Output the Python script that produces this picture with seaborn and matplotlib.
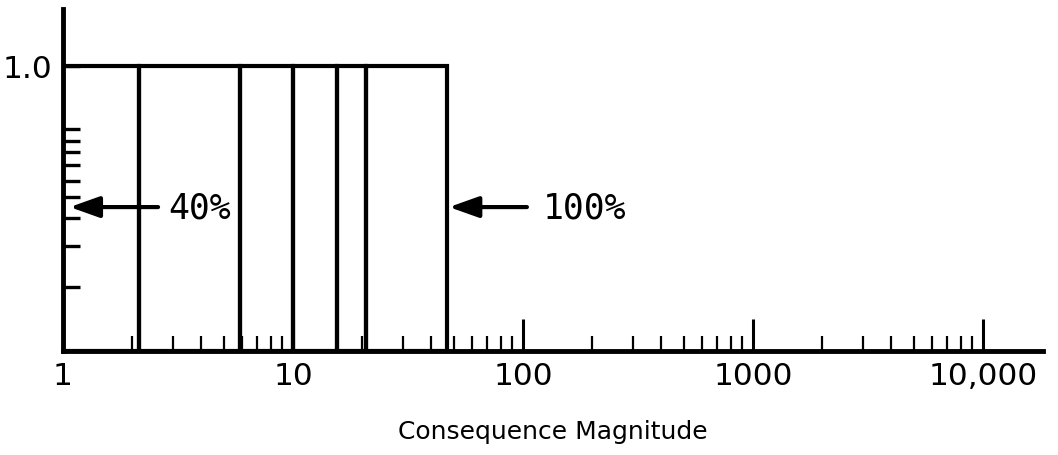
import numpy as np
import matplotlib
matplotlib.use("Agg")
import matplotlib.pyplot as plt
from matplotlib.ticker import LogLocator, NullFormatter
import seaborn as sns

# Consequence-magnitude bins (edges on a log axis) and their heights
bin_edges = [1.0, 2.15, 5.9, 10.0, 15.5, 20.7, 46.5]
bin_heights = [1.0, 1.0, 1.0, 1.0, 1.0, 1.0]

# Axis ticks
x_major = [1, 10, 100, 1000, 10000]
x_major_labels = ["1", "10", "100", "1000", "10,000"]
y_ticks = [0.225, 0.368, 0.467, 0.540, 0.596, 0.653, 0.698, 0.737, 0.779, 1.0]
y_tick_labels = ["", "", "", "", "", "", "", "", "", "1.0"]

# Percentage call-outs
callout_labels = ["40%", "100%"]

sns.set_theme(style="ticks")
plt.rcParams["font.family"] = ["DejaVu Sans"]

fig = plt.figure(figsize=(10.58, 4.56), dpi=100)
ax = fig.add_axes([63 / 1058, 104 / 456, 980 / 1058, 342 / 456])

centers = np.sqrt(np.array(bin_edges[:-1]) * np.array(bin_edges[1:]))
log_edges = [float(v) for v in np.log10(bin_edges)]
sns.histplot(x=centers, weights=bin_heights, bins=log_edges,
             log_scale=True, fill=False, element="bars", color="black",
             linewidth=3, ax=ax)

ax.set_xlim(1, 10 ** (980 / 230))
ax.set_ylim(0, 1.2)

sns.despine(ax=ax)
for side in ("left", "bottom"):
    ax.spines[side].set_linewidth(3.5)
    ax.spines[side].set_color("black")

ax.set_xticks(x_major)
ax.set_xticklabels(x_major_labels)
ax.xaxis.set_minor_locator(LogLocator(base=10, subs=np.arange(2, 10)))
ax.xaxis.set_minor_formatter(NullFormatter())
ax.tick_params(axis="x", which="major", direction="in", length=23, width=2.2,
               labelsize=22.5, pad=7, color="black", labelcolor="black")
ax.tick_params(axis="x", which="minor", direction="in", length=11, width=1.6,
               color="black")

ax.set_yticks(y_ticks)
ax.set_yticklabels(y_tick_labels)
ax.tick_params(axis="y", which="major", direction="in", length=12, width=2.4,
               labelsize=22.5, pad=8, color="black", labelcolor="black")
ax.tick_params(axis="y", which="minor", left=False)

ax.set_xlabel("Consequence Magnitude", fontsize=18, labelpad=21, color="black")
ax.set_ylabel("")

# Arrows pointing at the axis and at the last bin edge, with their labels
y_arrow = 0.505
arrow_spans = [(2.59, 1.07), (104, 47.7)]
text_x = [3.94, 186]
for label, (tail, head), tx in zip(callout_labels, arrow_spans, text_x):
    ax.annotate("", xy=(head, y_arrow), xytext=(tail, y_arrow),
                arrowprops=dict(arrowstyle="-|>,head_length=0.9,head_width=0.32",
                                mutation_scale=20, lw=3, color="black",
                                shrinkA=0, shrinkB=0))
    ax.text(tx, y_arrow, label, ha="center", va="center", fontsize=25,
            family="DejaVu Sans Mono", color="black")

fig.savefig("out.png", dpi=100)
